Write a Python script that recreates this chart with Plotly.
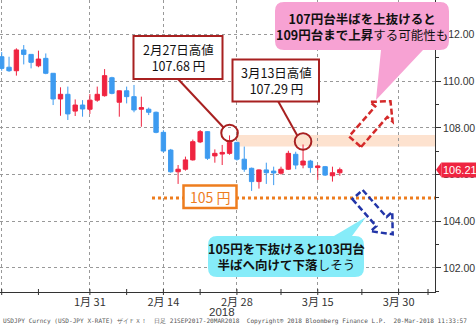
import plotly.graph_objects as go
import pandas as pd

# ---------------- data ----------------
dates = [
    "2018-01-15", "2018-01-16", "2018-01-17", "2018-01-18", "2018-01-19",
    "2018-01-22", "2018-01-23", "2018-01-24", "2018-01-25", "2018-01-26",
    "2018-01-29", "2018-01-30", "2018-01-31", "2018-02-01", "2018-02-02",
    "2018-02-05", "2018-02-06", "2018-02-07", "2018-02-08", "2018-02-09",
    "2018-02-12", "2018-02-13", "2018-02-14", "2018-02-15", "2018-02-16",
    "2018-02-19", "2018-02-20", "2018-02-21", "2018-02-22", "2018-02-23",
    "2018-02-26", "2018-02-27", "2018-02-28", "2018-03-01", "2018-03-02",
    "2018-03-05", "2018-03-06", "2018-03-07", "2018-03-08", "2018-03-09",
    "2018-03-12", "2018-03-13", "2018-03-14", "2018-03-15", "2018-03-16",
    "2018-03-19", "2018-03-20",
]
opens = [111.05, 110.60, 110.45, 111.34, 111.15, 110.66, 110.98, 110.34, 109.24, 109.44,
         108.72, 108.98, 108.80, 109.19, 109.38, 110.15, 109.10, 109.59, 109.34, 108.80,
         108.80, 108.67, 107.81, 107.05, 106.12, 106.23, 106.63, 107.40, 107.84, 106.80,
         106.88, 106.91, 107.38, 106.66, 106.27, 105.70, 106.20, 106.15, 106.06, 106.23,
         106.87, 106.41, 106.58, 106.30, 106.34, 105.95, 106.08]
highs = [111.25, 111.05, 111.41, 111.55, 111.15, 111.31, 111.19, 110.34, 109.74, 109.77,
         109.22, 109.19, 109.45, 109.77, 110.52, 110.19, 109.60, 109.77, 109.84, 109.34,
         108.87, 108.70, 107.90, 107.10, 106.41, 106.77, 107.50, 107.91, 107.86, 107.08,
         107.27, 107.68, 107.40, 107.20, 106.30, 106.22, 106.51, 106.34, 106.34, 107.02,
         106.98, 107.29, 106.63, 106.41, 106.37, 106.34, 106.30]
lows = [110.45, 110.40, 110.24, 110.72, 110.55, 110.60, 110.30, 108.98, 108.52, 108.34,
        108.51, 108.48, 108.60, 109.12, 109.34, 109.44, 108.48, 109.05, 108.67, 108.05,
        108.55, 107.77, 106.95, 106.08, 105.60, 106.17, 106.60, 107.35, 106.63, 106.51,
        106.41, 106.85, 106.60, 106.12, 105.30, 105.40, 105.60, 105.55, 106.00, 106.20,
        106.23, 106.27, 106.08, 105.77, 105.94, 105.70, 105.95]
closes = [110.55, 110.45, 111.34, 111.15, 110.81, 110.95, 110.34, 109.24, 109.44, 108.60,
          108.98, 108.81, 109.19, 109.44, 110.24, 109.48, 109.59, 109.34, 108.77, 108.87,
          108.67, 107.81, 107.01, 106.12, 106.23, 106.63, 107.41, 107.84, 106.70, 106.91,
          106.95, 107.38, 106.66, 106.23, 105.70, 106.20, 106.08, 106.07, 106.23, 106.91,
          106.41, 106.58, 106.30, 106.37, 105.98, 106.08, 106.21]

axis_days = [d.strftime("%Y-%m-%d") for d in pd.bdate_range("2018-01-15", "2018-04-06")]
major_tick_dates = ["2018-01-15", "2018-01-31", "2018-02-14", "2018-02-28", "2018-03-15", "2018-03-30"]
major_tick_text = ["", "1月 31", "2月 14", "2月 28", "3月 15", "3月 30"]
minor_tick_dates = ["2018-01-22", "2018-02-07", "2018-02-21", "2018-03-08", "2018-03-23", "2018-04-05"]
y_tick_vals = [102, 104, 106, 108, 110, 112]
y_minor_vals = [101, 103, 105, 107, 109, 111, 113]
support_level = 105
band_low, band_high = 107.2, 107.7
peak1_date, peak2_date = "2018-02-27", "2018-03-13"
last_price = closes[-1]

# ---------------- geometry ----------------
W, H = 476, 328
PL, PR, PT, PB = 0, 435, 0, 292
XR = [-0.23, 58.95]
YR = [100.97, 113.48]

def fx(p):
    return (p - PL) / (PR - PL)

def fy(p):
    return (PB - p) / (PB - PT)

def vy(v):
    return PB - (v - YR[0]) / (YR[1] - YR[0]) * (PB - PT)

def path_px(points):
    s = "M %.5f,%.5f" % (fx(points[0][0]), fy(points[0][1]))
    for p in points[1:]:
        s += " L %.5f,%.5f" % (fx(p[0]), fy(p[1]))
    return s + " Z"

def bubble(x0, y0, x1, y1, r, tail, side):
    ba, bb, tip = tail
    P = lambda x, y: "%.5f,%.5f" % (fx(x), fy(y))
    s = "M " + P(x0 + r, y0)
    if side == "top":
        s += " L " + P(ba, y0) + " L " + P(*tip) + " L " + P(bb, y0)
    s += " L " + P(x1 - r, y0) + " Q " + P(x1, y0) + " " + P(x1, y0 + r)
    s += " L " + P(x1, y1 - r) + " Q " + P(x1, y1) + " " + P(x1 - r, y1)
    if side == "bottom":
        s += " L " + P(bb, y1) + " L " + P(*tip) + " L " + P(ba, y1)
    s += " L " + P(x0 + r, y1) + " Q " + P(x0, y1) + " " + P(x0, y1 - r)
    s += " L " + P(x0, y0 + r) + " Q " + P(x0, y0) + " " + P(x0 + r, y0) + " Z"
    return s

def arrow(tail, tip, bhw, hhw, hlen):
    dx, dy = tip[0] - tail[0], tip[1] - tail[1]
    L = (dx * dx + dy * dy) ** 0.5
    ux, uy = dx / L, dy / L
    nx, ny = -uy, ux
    neck = (tip[0] - ux * hlen, tip[1] - uy * hlen)
    pts = [
        (tail[0] + nx * bhw, tail[1] + ny * bhw),
        (neck[0] + nx * bhw, neck[1] + ny * bhw),
        (neck[0] + nx * hhw, neck[1] + ny * hhw),
        tip,
        (neck[0] - nx * hhw, neck[1] - ny * hhw),
        (neck[0] - nx * bhw, neck[1] - ny * bhw),
        (tail[0] - nx * bhw, tail[1] - ny * bhw),
    ]
    return path_px(pts)

RED = "#ef2440"
BLUE = "#3d9bf0"
DARKRED = "#a82020"
ORANGE = "#ee7d1e"
JP = "Noto Sans CJK JP"

fig = go.Figure(go.Candlestick(
    x=dates, open=opens, high=highs, low=lows, close=closes,
    increasing=dict(line=dict(color=RED, width=1), fillcolor=RED),
    decreasing=dict(line=dict(color=BLUE, width=1), fillcolor=BLUE),
    whiskerwidth=0, showlegend=False, hoverinfo="skip",
))

shapes = []
shapes.append(dict(type="rect", xref="x", yref="y", x0=axis_days.index("2018-02-28"), x1=XR[1],
                   y0=band_low, y1=band_high, fillcolor="#fde2cf", line=dict(width=0), layer="below"))
shapes.append(dict(type="line", xref="paper", yref="y", x0=fx(152), x1=1, y0=support_level, y1=support_level,
                   line=dict(color=ORANGE, width=3, dash="dot")))
# x tick marks (crossing the axis line)
for d in major_tick_dates + minor_tick_dates:
    i = axis_days.index(d)
    shapes.append(dict(type="line", xref="x", yref="paper", x0=i, x1=i, y0=3 / (PB - PT), y1=-3 / (PB - PT),
                       line=dict(color="#333", width=1)))
for d, off in [(peak1_date, 2.4), (peak2_date, 3.0)]:
    i = dates.index(d)
    shapes.append(dict(type="circle", xref="x", yref="y", xsizemode="pixel", ysizemode="pixel",
                       xanchor=i, yanchor=highs[i], x0=-8.3, x1=8.3, y0=-8.3 + off, y1=8.3 + off,
                       line=dict(color=DARKRED, width=2)))
shapes.append(dict(type="line", xref="paper", yref="paper", x0=fx(178), y0=fy(79), x1=fx(224), y1=fy(128),
                   line=dict(color=DARKRED, width=2)))
shapes.append(dict(type="line", xref="paper", yref="paper", x0=fx(278), y0=fy(101), x1=fx(297.5), y1=fy(136),
                   line=dict(color=DARKRED, width=2)))
shapes.append(dict(type="rect", xref="paper", yref="paper", x0=fx(133.5), x1=fx(222.5), y0=fy(79), y1=fy(36),
                   fillcolor="white", line=dict(color=DARKRED, width=2)))
shapes.append(dict(type="rect", xref="paper", yref="paper", x0=fx(232.5), x1=fx(319), y0=fy(101.5), y1=fy(59.5),
                   fillcolor="white", line=dict(color=DARKRED, width=2)))
shapes.append(dict(type="rect", xref="paper", yref="paper", x0=fx(183.5), x1=fx(236.5), y0=fy(208), y1=fy(185.5),
                   fillcolor="white", line=dict(color=ORANGE, width=2.5)))
shapes.append(dict(type="path", xref="paper", yref="paper",
                   path=bubble(275, 2, 449, 50, 9, (381, 423, (376, 100)), "bottom"),
                   fillcolor="#f7a2d3", line=dict(width=0)))
shapes.append(dict(type="path", xref="paper", yref="paper",
                   path=bubble(208, 236, 364, 277, 9, (334, 352, (366, 217)), "top"),
                   fillcolor="#86ecf9", line=dict(width=0)))
shapes.append(dict(type="path", xref="paper", yref="paper",
                   path=arrow((355, 141.7), (390.5, 101.2), 8, 15, 14),
                   line=dict(color="#d42a2a", width=2.5, dash="6px,3px")))
shapes.append(dict(type="path", xref="paper", yref="paper",
                   path=arrow((357.5, 194.6), (392.7, 234.3), 6.9, 14.5, 17),
                   line=dict(color="#2235a8", width=2.5, dash="6px,3px")))
ly = vy(last_price)
shapes.append(dict(type="path", xref="paper", yref="paper",
                   path=path_px([(436, ly), (441.5, ly - 7.5), (441.5, ly + 7.5)]),
                   fillcolor=RED, line=dict(width=0)))

i1, i2 = dates.index(peak1_date), dates.index(peak2_date)
annotations = [
    dict(x=fx(178), y=fy(57.5), text="2月27日高値<br>%.2f 円" % highs[i1]),
    dict(x=fx(276), y=fy(80.5), text="3月13日高値<br>%.2f 円" % highs[i2]),
    dict(x=fx(362), y=fy(26), text="<b>107円台半ばを上抜けると</b><br><b>109円台まで上昇</b>する可能性も"),
    dict(x=fx(286), y=fy(256.5), text="<b>105円を下抜けると103円台</b><br><b>半ばへ向けて下落</b>しそう"),
]
for a in annotations:
    a.update(font=dict(family=JP, size=12.5, color="#111"))
annotations.append(dict(x=fx(210), y=fy(196.5), text="%d 円" % support_level,
                        font=dict(family=JP, size=14, color=ORANGE)))
annotations.append(dict(x=fx(222), y=fy(311.5), text="2018",
                        font=dict(family="Liberation Sans", size=11.5, color="#333")))
for a in annotations:
    a.update(xref="paper", yref="paper", showarrow=False, xanchor="center", yanchor="middle")
annotations.append(dict(x=1, y=last_price, xref="paper", yref="y", xanchor="left", yanchor="middle",
                        xshift=6, showarrow=False, text="%.2f" % last_price, bgcolor=RED, borderpad=1,
                        font=dict(family="Liberation Sans", size=11, color="white")))
annotations.append(dict(x=fx(1), y=fy(321), xref="paper", yref="paper", showarrow=False,
                        xanchor="left", yanchor="middle",
                        text="USDJPY Curncy (USD-JPY X-RATE) ザイＦＸ！  日足 21SEP2017-20MAR2018  Copyright® 2018 Bloomberg Finance L.P.  20-Mar-2018 11:33:57",
                        font=dict(family="DejaVu Sans Mono", size=6.1, color="#555")))

fig.update_layout(
    width=W, height=H, margin=dict(l=PL, r=W - PR, t=PT, b=H - PB),
    plot_bgcolor="white", paper_bgcolor="white", boxgap=0.15,
    shapes=shapes, annotations=annotations, showlegend=False,
    xaxis=dict(type="category", categoryorder="array", categoryarray=axis_days, range=XR,
               tickmode="array", tickvals=major_tick_dates, ticktext=major_tick_text,
               showgrid=True, gridcolor="#999", griddash="dot", gridwidth=1,
               ticks="", ticklabelstandoff=0,
               showline=True, linecolor="#333", linewidth=1,
               rangeslider=dict(visible=False), zeroline=False,
               tickfont=dict(family=JP, size=11, color="#333")),
    yaxis=dict(side="right", range=YR, tickmode="array", tickvals=y_tick_vals,
               ticktext=["%.2f" % v for v in y_tick_vals],
               showgrid=True, gridcolor="#999", griddash="dot", gridwidth=1,
               ticks="outside", ticklen=5, tickcolor="#333",
               minor=dict(tickvals=y_minor_vals, ticks="outside", ticklen=3, tickcolor="#333", showgrid=False),
               showline=True, linecolor="#333", linewidth=1, zeroline=False,
               tickfont=dict(family="Liberation Sans", size=10.5, color="#333")),
)

fig.write_html("out.html")
